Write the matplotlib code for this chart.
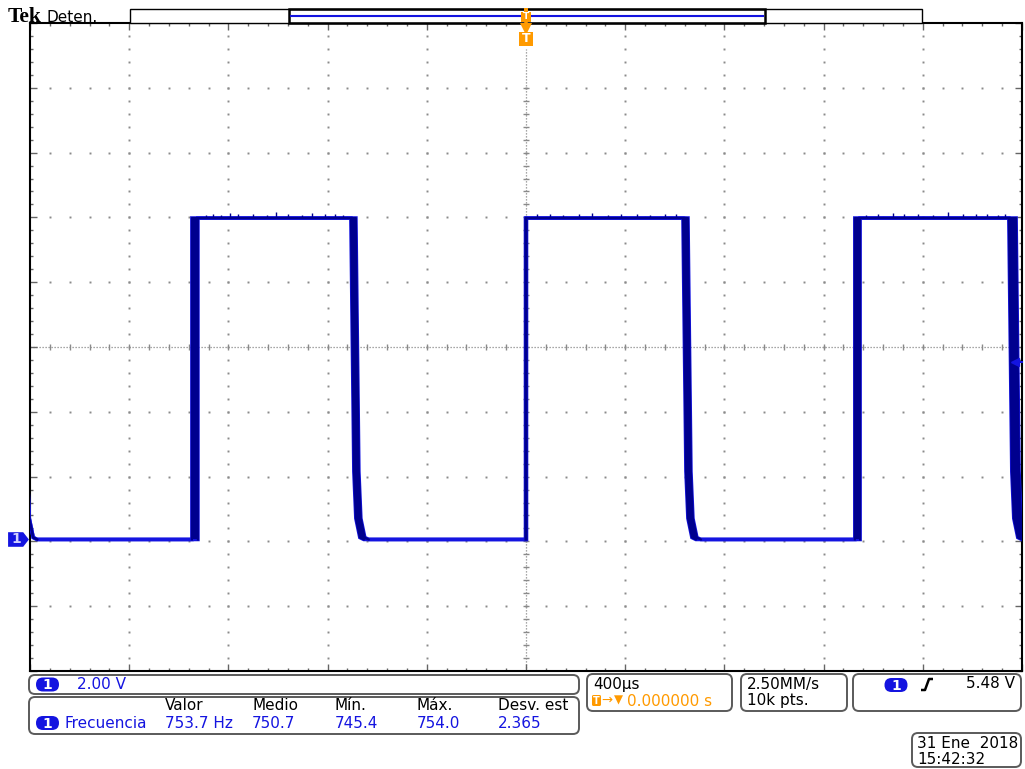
import matplotlib.pyplot as plt
import matplotlib.transforms as mtransforms
from matplotlib.patches import FancyBboxPatch, Rectangle
import numpy as np

# channel 1 capture, time in µs and level in V
# edges jitter over a few µs, so both bounds of every edge are kept
rise_early = [-1347, -2, 1326]
rise_late = [-1323, 2, 1347]
fall_early = [-2023, -706, 633, 1947]
fall_late = [-2023, -686, 653, 1976]
v_low = 0.0
v_high = 9.92
# ringing tail after a falling edge (µs after the edge, V)
tail_dt = [0, 12, 20, 36, 52]
tail_v = [v_high, 2.1, 0.65, 0.06, v_low]
# glitches riding on the high level
glitch_t = [-1290, -1262, -1231, -1195, -1160, -1102, -1046, -1010, -958, -905,
            -862, -810, -772, -738, 45, 96, 150, 212, 268, 330, 385, 447, 502,
            560, 604, 1372, 1420, 1478, 1523, 1580, 1640, 1702, 1761, 1815,
            1860, 1905, 1930]
glitch_v = [10.02, 10.05, 10.0, 10.08, 10.03, 10.06, 10.01, 10.1, 10.04, 10.02,
            10.07, 10.03, 10.05, 10.01, 10.03, 10.06, 10.02, 10.05, 10.08, 10.02,
            10.04, 10.06, 10.01, 10.05, 10.03, 10.02, 10.05, 10.08, 10.03, 10.06,
            10.02, 10.12, 10.04, 10.03, 10.06, 10.02, 10.04]

# scope settings
time_div = 400.0      # µs/div
volt_div = 2.0        # V/div
ch1_position = -2.97  # div
trig_level = 5.48     # V

# measurement table
meas_cols = ['Valor', 'Medio', 'Mín.', 'Máx.', 'Desv. est']
meas_vals = ['753.7 Hz', '750.7', '745.4', '754.0', '2.365']

BLUE = '#1414e0'
NAVY = '#00008e'
ORANGE = '#ff9a00'
GRID = '#8a8a8a'
FONT = 'DejaVu Sans'


def build_trace(falls, rises):
    t, v = [], []
    for i, f in enumerate(falls):
        t += [f + d for d in tail_dt]
        v += tail_v
        if i < len(rises):
            t += [rises[i], rises[i]]
            v += [v_low, v_high]
    return np.array(t), np.array(v)


def high_pieces(falls, rises):
    pieces = [([falls[0] + d for d in tail_dt], list(tail_v))]
    for i, r in enumerate(rises):
        f = falls[i + 1]
        pieces.append(([r, r] + [f + d for d in tail_dt],
                       [v_low, v_high] + list(tail_v)))
    return pieces


fig = plt.figure(figsize=(10.25, 7.69), dpi=100)
W, H = 1025, 769
ax = fig.add_axes([30 / W, 1 - 671 / H, 992 / W, 648 / H])

x0, x1 = -5 * time_div, 5 * time_div
y_mid = -ch1_position * volt_div
y0, y1 = y_mid - 5 * volt_div, y_mid + 5 * volt_div
ax.set_xlim(x0, x1)
ax.set_ylim(y0, y1)

x_major = np.linspace(x0, x1, 11)
x_minor = np.linspace(x0, x1, 51)
y_major = np.linspace(y0, y1, 11)
y_minor = np.linspace(y0, y1, 51)

# dotted graticule
dot = dict(ls='none', marker='s', ms=1.4, mew=0, color=GRID, zorder=1)
for k, xm in enumerate(x_major[1:-1], start=1):
    if k != 5:
        ax.plot(np.full(49, xm), y_minor[1:-1], **dot)
for k, ym in enumerate(y_major[1:-1], start=1):
    if k != 5:
        ax.plot(x_minor[1:-1], np.full(49, ym), **dot)

# centre crosshair
xc, yc = x_major[5], y_major[5]
ax.plot([xc, xc], [y0, y_major[-2] + 0.6 * volt_div], color=GRID, lw=0.9,
        ls=(0, (1, 1.4)), zorder=1)
ax.axhline(yc, color=GRID, lw=0.9, ls=(0, (1, 1.4)), zorder=1)
ax.plot(np.full(45, xc), y_minor[1:-5], ls='none', marker='_', ms=5,
        mew=1, color=GRID, zorder=1)
ax.plot(x_minor[1:-1], np.full(49, yc), ls='none', marker='|', ms=5,
        mew=1, color=GRID, zorder=1)

ax.set_xticks(x_major)
ax.set_xticks(x_minor, minor=True)
ax.set_yticks(y_major)
ax.set_yticks(y_minor, minor=True)
ax.tick_params(which='both', direction='in', top=True, right=True,
               labelbottom=False, labelleft=False, color='#666666', width=1)
ax.tick_params(which='major', length=5)
ax.tick_params(which='minor', length=2.5)
for s in ax.spines.values():
    s.set_linewidth(1.5)
    s.set_color('black')

# waveform: bright low level underneath, dense edges and high level on top
for falls, rises in [(fall_early, rise_early), (fall_late, rise_late)]:
    t, v = build_trace(falls, rises)
    ax.plot(t, v, color=BLUE, lw=2.6, solid_joinstyle='miter', zorder=3)

# jitter bands across each edge
for re, rl in zip(rise_early, rise_late):
    ax.fill_betweenx([v_low, v_high], re, rl, color=NAVY, lw=0, zorder=4)
for fe, fl in zip(fall_early, fall_late):
    band_t = [fe + d for d in tail_dt] + [fl + d for d in tail_dt][::-1]
    band_v = list(tail_v) + list(tail_v)[::-1]
    ax.fill(band_t, band_v, color=NAVY, lw=0, zorder=4)

for falls, rises in [(fall_early, rise_early), (fall_late, rise_late)]:
    for pt, pv in high_pieces(falls, rises):
        ax.plot(pt, pv, color=NAVY, lw=1.5, zorder=4)
ax.vlines(glitch_t, v_high, glitch_v, color=NAVY, lw=1, zorder=4)

# trigger level arrow on the right edge
ax.plot([1970, x1], [trig_level, trig_level], color=BLUE, lw=1.5, zorder=5,
        clip_on=False)
ax.plot([1970], [trig_level], marker='<', ms=6, color=BLUE, zorder=5,
        clip_on=False)

# overlay in pixel units for the screen furniture
ov = fig.add_axes([0, 0, 1, 1], zorder=5)
ov.set_xlim(0, W)
ov.set_ylim(H, 0)
ov.axis('off')

ov.text(8, 17.5, 'Tek', family='Liberation Serif', weight='bold', fontsize=15.5,
        va='center', ha='left')
ov.text(46, 17, 'Deten.', family=FONT, fontsize=11, va='center', ha='left')

# record view strip
ov.add_patch(Rectangle((130, 9), 792, 14, fc='white', ec='black', lw=1))
ov.add_patch(Rectangle((289, 9), 476, 14, fc='none', ec='black', lw=1.8))
ov.plot([291, 763], [15.5, 15.5], color=BLUE, lw=1.5)

# trigger position markers
tr_x = mtransforms.blended_transform_factory(ax.transData, ov.transData)
ov.plot([0], [9.5], marker='s', ms=3.5, color=ORANGE, mew=0, transform=tr_x)
ov.plot([0], [16.5], marker='s', ms=7, color=ORANGE, mew=0, transform=tr_x)
ov.plot([0], [23], marker='v', ms=5, color=ORANGE, mew=0, transform=tr_x)
ov.text(0, 16.5, 'T', color='white', weight='bold', fontsize=6.5, ha='center',
        va='center', transform=tr_x, family=FONT)
ov.plot([0], [29], marker='v', ms=8, color=ORANGE, mew=0, transform=tr_x)
ov.plot([0], [38.5], marker='s', ms=9.5, color=ORANGE, mew=0, transform=tr_x)
ov.text(0, 38.5, 'T', color='white', weight='bold', fontsize=9, ha='center',
        va='center', transform=tr_x, family=FONT)

# channel 1 ground marker on the left
tr_g = mtransforms.blended_transform_factory(ov.transData, ax.transData)
pent = [(-1, -0.7), (0.45, -0.7), (1, 0), (0.45, 0.7), (-1, 0.7), (-1, -0.7)]
ov.plot([18], [v_low], marker=pent, ms=15, color=BLUE, mew=0, transform=tr_g)
ov.text(16, v_low, '1', color='#d0d0ff', weight='bold', fontsize=10,
        ha='center', va='center', transform=tr_g, family=FONT)


def box(x, y, w, h):
    ov.add_patch(FancyBboxPatch((x, y), w, h,
                                boxstyle='round,pad=0,rounding_size=6',
                                fc='white', ec='#5a5a5a', lw=1.4))


def badge(x, y):
    ov.add_patch(FancyBboxPatch((x - 11.5, y - 7), 23, 14,
                                boxstyle='round,pad=0,rounding_size=7',
                                fc=BLUE, ec='none'))
    ov.text(x, y + 0.5, '1', color='white', weight='bold', fontsize=10,
            ha='center', va='center', family=FONT)


txt = dict(family=FONT, fontsize=11, va='center', ha='left')

# vertical scale
box(29, 675, 550, 19)
badge(47.5, 684.5)
ov.text(77, 684.5, '2.00 V', color=BLUE, **txt)

# measurement readout
box(29, 697, 550, 37)
col_x = [165, 252, 335, 417, 498]
for cx, name, val in zip(col_x, meas_cols, meas_vals):
    ov.text(cx, 706, name, color='black', **txt)
    ov.text(cx, 723, val, color=BLUE, **txt)
badge(47.5, 723)
ov.text(64, 723, 'Frecuencia', color=BLUE, **txt)

# horizontal scale and trigger position
box(587, 674, 145, 37)
ov.text(593, 684, '400µs', color='black', **txt)
ov.add_patch(FancyBboxPatch((592, 695), 9, 11,
                            boxstyle='round,pad=0,rounding_size=1.5',
                            fc=ORANGE, ec='none'))
ov.text(596.5, 700.5, 'T', color='white', weight='bold', fontsize=7,
        ha='center', va='center', family=FONT)
ov.text(601, 700.5, '→', color=ORANGE, family=FONT, fontsize=9.5,
        va='center', ha='left')
ov.text(614, 700, '▼', color=ORANGE, family=FONT, fontsize=8.5,
        va='center', ha='left')
ov.text(627, 701, '0.000000 s', color=ORANGE, **txt)

# sample rate and record length
box(741, 674, 106, 37)
ov.text(747, 684, '2.50MM/s', color='black', **txt)
ov.text(747, 700, '10k pts.', color='black', **txt)

# trigger source, slope and level
box(853, 674, 168, 37)
badge(896, 685)
ov.plot([921, 925, 929, 933], [690, 690, 679, 679], color='black', lw=1.8,
        solid_capstyle='butt')
ov.text(1015, 684, f'{trig_level:.2f} V', color='black', family=FONT,
        fontsize=11, va='center', ha='right')

# date and time
box(912, 733, 109, 34)
ov.text(917, 744, '31 Ene  2018', color='black', **txt)
ov.text(917, 759, '15:42:32', color='black', **txt)

fig.savefig('out.png', dpi=100)
